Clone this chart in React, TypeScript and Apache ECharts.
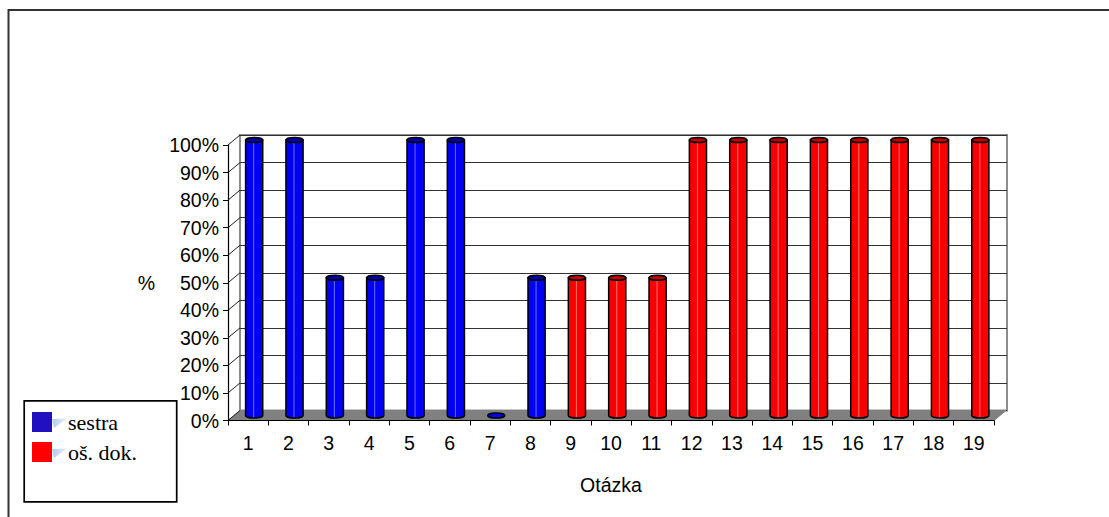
import React, { useEffect, useRef } from "react";
import * as echarts from "echarts";

// Question numbers along the bottom axis
const categories = [
  "1", "2", "3", "4", "5", "6", "7", "8", "9", "10",
  "11", "12", "13", "14", "15", "16", "17", "18", "19",
];

// Share of answers (%) per question; null = the other group answered
const sestra: (number | null)[] = [
  100, 100, 50, 50, 100, 100, 0, 50,
  null, null, null, null, null, null, null, null, null, null, null,
];
const osDok: (number | null)[] = [
  null, null, null, null, null, null, null, null,
  50, 50, 50, 100, 100, 100, 100, 100, 100, 100, 100,
];

const yTicks = [0, 10, 20, 30, 40, 50, 60, 70, 80, 90, 100];

const seriesNames = ["sestra", "oš. dok."];
const legendColors = ["#2010c0", "#ff0000"];

// Pseudo-3D box: front plane, depth offset of the back wall
const FRONT = { left: 228, top: 145, width: 766, height: 275.5 };
const DEPTH = { dx: 12, dy: -10 };
const FONT = "Liberation Sans";
const SERIF = "Liberation Serif, Times New Roman, serif";

type Pal = { body: string; top: string; shine: string };
const BLUE: Pal = { body: "#0000f4", top: "#0000a8", shine: "#6c6cff" };
const RED: Pal = { body: "#f80000", top: "#c00000", shine: "#ff7070" };

const toPairs = (arr: (number | null)[]) =>
  arr.map((v, i) => (v == null ? null : [i, v])).filter((d) => d !== null) as number[][];

// Cylinder bar drawn at mid depth of the box
const cylinder = (pal: Pal) => (params: any, api: any) => {
  const i = api.value(0);
  const v = api.value(1);
  const top = api.coord([i, v]);
  const base = api.coord([i, 0]);
  const w = api.size([1, 0])[0] * 0.425;
  const rx = w / 2;
  const ry = 2.6;
  const cx = top[0];
  if (v <= 0) {
    return {
      type: "ellipse",
      shape: { cx, cy: base[1], rx, ry },
      style: { fill: pal.body, stroke: "#000", lineWidth: 1.5 },
    };
  }
  const d =
    `M ${cx - rx} ${top[1]} L ${cx - rx} ${base[1]} ` +
    `A ${rx} ${ry} 0 0 0 ${cx + rx} ${base[1]} L ${cx + rx} ${top[1]} Z`;
  return {
    type: "group",
    children: [
      {
        type: "path",
        shape: { pathData: d },
        style: { fill: pal.body, stroke: "#000", lineWidth: 1.5 },
      },
      {
        type: "line",
        shape: { x1: cx - 0.5, y1: top[1] + ry, x2: cx - 0.5, y2: base[1] + ry - 1 },
        style: { stroke: pal.shine, lineWidth: 1 },
      },
      {
        type: "ellipse",
        shape: { cx, cy: top[1], rx, ry },
        style: { fill: pal.top, stroke: "#000", lineWidth: 1.5 },
      },
    ],
  };
};

export default function App() {
  const ref = useRef<HTMLDivElement>(null);

  useEffect(() => {
    document.body.style.margin = "0";
    if (!ref.current) return;
    const chart = echarts.init(ref.current, undefined, { renderer: "svg" });

    const F = FRONT;
    const backLeft = F.left + DEPTH.dx;
    const backTop = F.top + DEPTH.dy;
    const frontBottom = F.top + F.height;
    const frontRight = F.left + F.width;

    // side-wall gridlines from each front tick to the back wall
    const sideLines = yTicks.map((t) => {
      const y = frontBottom - (t / 100) * F.height;
      return {
        type: "line",
        z: 2,
        shape: { x1: F.left, y1: y, x2: F.left + DEPTH.dx, y2: y + DEPTH.dy },
        style: { stroke: "#222", lineWidth: 1 },
      };
    });

    // legend box with keys
    const LEG = { x: 24.2, y: 400.8, w: 152.5, h: 101, keyX: 32, keyY: 412, step: 30 };
    const legendItems = seriesNames.flatMap((name, k) => {
      const y = LEG.keyY + k * LEG.step;
      return [
        {
          type: "rect", z: 3,
          shape: { x: LEG.keyX, y, width: 20, height: 20 },
          style: { fill: legendColors[k] },
        },
        {
          type: "polygon", z: 3,
          shape: { points: [[LEG.keyX + 20, y + 7], [LEG.keyX + 35, y + 6.5], [LEG.keyX + 22, y + 16]] },
          style: {
            fill: new echarts.graphic.LinearGradient(0, 0, 1, 0, [
              { offset: 0, color: "#b4c8ee" },
              { offset: 1, color: "#e8eff9" },
            ]),
          },
        },
        {
          type: "text", z: 3,
          x: LEG.keyX + 36, y: y + 10,
          style: {
            text: name, fill: "#000", fontSize: 22, fontFamily: SERIF,
            align: "left", verticalAlign: "middle",
          },
        },
      ];
    });

    const hiddenAxis = { show: false };

    chart.setOption({
      animation: false,
      backgroundColor: "#fff",
      grid: [
        // back wall
        {
          left: backLeft, top: backTop, width: F.width + 1, height: F.height,
          show: true, borderColor: "#8c8c8c", borderWidth: 2, backgroundColor: "transparent",
        },
        // mid depth (bars)
        { left: F.left + DEPTH.dx / 2, top: F.top + DEPTH.dy / 2, width: F.width + 0.5, height: F.height },
        // front plane (axes)
        { left: F.left, top: F.top, width: F.width, height: F.height },
      ],
      xAxis: [
        { gridIndex: 0, type: "category", data: categories, ...hiddenAxis },
        { gridIndex: 1, type: "category", data: categories, ...hiddenAxis },
        {
          gridIndex: 2,
          type: "category",
          data: categories,
          z: 6,
          axisLine: { lineStyle: { color: "#000", width: 1.2 } },
          axisTick: { show: true, length: 5, lineStyle: { color: "#000" } },
          axisLabel: { color: "#000", fontFamily: FONT, fontSize: 19.5, margin: 12 },
          name: "Otázka",
          nameLocation: "middle",
          nameGap: 54,
          nameTextStyle: { color: "#000", fontFamily: FONT, fontSize: 19.5 },
        },
      ],
      yAxis: [
        {
          gridIndex: 0, type: "value", min: 0, max: 100, interval: 10,
          axisLine: { show: false }, axisTick: { show: false }, axisLabel: { show: false },
          splitLine: { show: true, lineStyle: { color: "#333", width: 1.2 } },
        },
        { gridIndex: 1, type: "value", min: 0, max: 100, ...hiddenAxis },
        {
          gridIndex: 2, type: "value", min: 0, max: 100, interval: 10,
          z: 6,
          axisLine: { show: true, lineStyle: { color: "#000", width: 1.2 } },
          axisTick: { show: true, length: 5, lineStyle: { color: "#000" } },
          axisLabel: { color: "#000", fontFamily: FONT, fontSize: 19.5, margin: 9, formatter: "{value}%" },
          splitLine: { show: false },
          name: "%",
          nameLocation: "middle",
          nameRotate: 0,
          nameGap: 73,
          nameTextStyle: { color: "#000", fontFamily: FONT, fontSize: 19.5 },
        },
      ],
      graphic: [
        // outer frame
        {
          type: "rect", z: 0,
          shape: { x: 8.5, y: 10, width: 1200, height: 600 },
          style: { fill: "none", stroke: "#333", lineWidth: 2 },
        },
        // floor
        {
          type: "polygon", z: 1,
          shape: {
            points: [
              [F.left, frontBottom],
              [frontRight, frontBottom],
              [frontRight + DEPTH.dx, frontBottom + DEPTH.dy],
              [backLeft, frontBottom + DEPTH.dy],
            ],
          },
          style: { fill: "#808080", stroke: "#808080", lineWidth: 1 },
        },
        ...sideLines,
        {
          type: "rect", z: 2,
          shape: { x: LEG.x, y: LEG.y, width: LEG.w, height: LEG.h },
          style: { fill: "#fff", stroke: "#000", lineWidth: 1.7 },
        },
        ...legendItems,
      ],
      series: [
        {
          name: seriesNames[0],
          type: "custom",
          xAxisIndex: 1,
          yAxisIndex: 1,
          z: 5,
          itemStyle: { color: legendColors[0] },
          renderItem: cylinder(BLUE),
          data: toPairs(sestra),
        },
        {
          name: seriesNames[1],
          type: "custom",
          xAxisIndex: 1,
          yAxisIndex: 1,
          z: 5,
          itemStyle: { color: legendColors[1] },
          renderItem: cylinder(RED),
          data: toPairs(osDok),
        },
      ],
    });

    return () => chart.dispose();
  }, []);

  return <div ref={ref} style={{ width: 1109, height: 517, overflow: "hidden" }} />;
}
